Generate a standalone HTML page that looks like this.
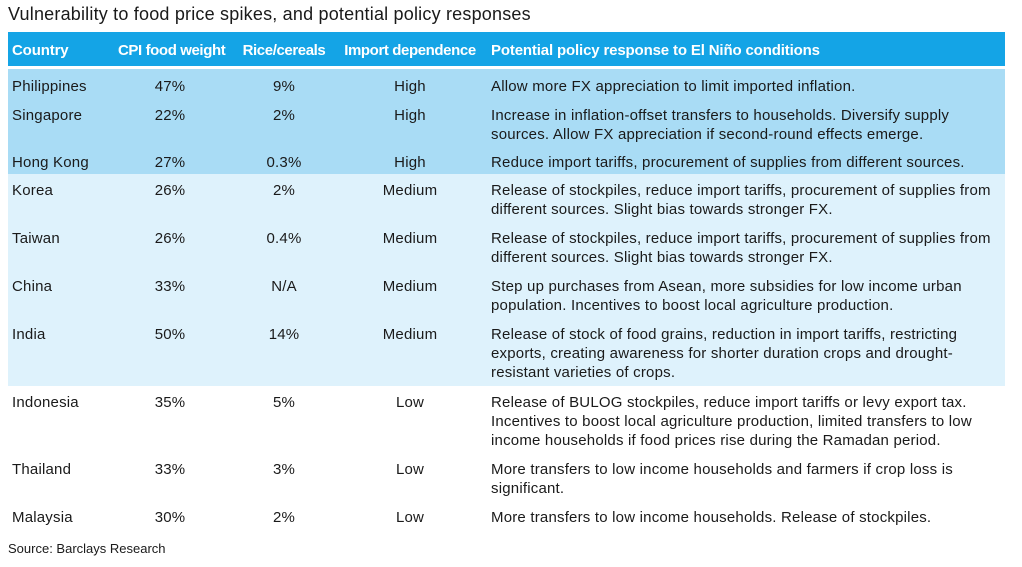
<!DOCTYPE html>
<html><head><meta charset="utf-8">
<style>
body{margin:0;width:1022px;height:567px;background:#fff;font-family:"Liberation Sans",sans-serif;color:#1a1a1a;position:relative;overflow:hidden}
#title{position:absolute;left:8px;top:4px;font-size:18px;letter-spacing:0.2px}
.band{position:absolute;left:8px;width:997px}
.row{position:absolute;left:8px;width:997px;font-size:15px;line-height:19px;letter-spacing:0.2px}
.row div{position:absolute;top:0;white-space:nowrap}
.c1{left:4px}.c2{left:110px;width:104px;text-align:center}.c3{left:226px;width:100px;text-align:center}
.c4{left:332px;width:140px;text-align:center}.c5{left:483px}
.hdr{color:#fff;font-weight:bold;letter-spacing:-0.15px}
.hdr .c2,.hdr .c3,.hdr .c4{letter-spacing:-0.4px}
#src{position:absolute;left:8px;top:541px;font-size:13px}
</style></head><body>
<div id="title">Vulnerability to food price spikes, and potential policy responses</div>
<div class="band" style="top:32px;height:34px;background:#14a4e6"></div>
<div class="band" style="top:69px;height:105px;background:#a9dcf5"></div>
<div class="band" style="top:174px;height:212px;background:#def2fc"></div>
<div class="row hdr" style="top:41px">
<div class="c1">Country</div>
<div class="c2">CPI food weight</div>
<div class="c3">Rice/cereals</div>
<div class="c4">Import dependence</div>
<div class="c5">Potential policy response to El Niño conditions</div>
</div>
<div id="rows"></div>
<div id="src">Source: Barclays Research</div>
<script>
const countries=["Philippines","Singapore","Hong Kong","Korea","Taiwan","China","India","Indonesia","Thailand","Malaysia"];
const cpi=["47%","22%","27%","26%","26%","33%","50%","35%","33%","30%"];
const rice=["9%","2%","0.3%","2%","0.4%","N/A","14%","5%","3%","2%"];
const dep=["High","High","High","Medium","Medium","Medium","Medium","Low","Low","Low"];
const policy=[
"Allow more FX appreciation to limit imported inflation.",
"Increase in inflation-offset transfers to households. Diversify supply<br>sources. Allow FX appreciation if second-round effects emerge.",
"Reduce import tariffs, procurement of supplies from different sources.",
"Release of stockpiles, reduce import tariffs, procurement of supplies from<br>different sources. Slight bias towards stronger FX.",
"Release of stockpiles, reduce import tariffs, procurement of supplies from<br>different sources. Slight bias towards stronger FX.",
"Step up purchases from Asean, more subsidies for low income urban<br>population. Incentives to boost local agriculture production.",
"Release of stock of food grains, reduction in import tariffs, restricting<br>exports, creating awareness for shorter duration crops and drought-<br>resistant varieties of crops.",
"Release of BULOG stockpiles, reduce import tariffs or levy export tax.<br>Incentives to boost local agriculture production, limited transfers to low<br>income households if food prices rise during the Ramadan period.",
"More transfers to low income households and farmers if crop loss is<br>significant.",
"More transfers to low income households. Release of stockpiles."];
const tops=[77,106,153,181,229,277,325,393,460,508];
const host=document.getElementById('rows');
countries.forEach((c,i)=>{
  const r=document.createElement('div');
  r.className='row';
  r.style.top=tops[i]+'px';
  
  
  const vals=[c,cpi[i],rice[i],dep[i],policy[i]];
  const names=['country','cpi-weight','rice-cereals','import-dependence','policy-response'];
  vals.forEach((v,j)=>{
    const d=document.createElement('div');
    d.className='c'+(j+1);
    d.innerHTML=v;
    
    
    r.appendChild(d);
  });
  host.appendChild(r);
});
</script>
</body></html>
